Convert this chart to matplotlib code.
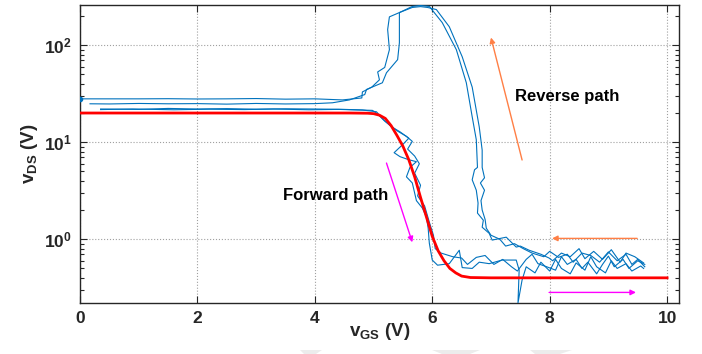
import matplotlib
matplotlib.use('Agg')
import matplotlib.pyplot as plt
from matplotlib.patches import Polygon
from matplotlib.ticker import LogLocator, NullFormatter

plt.rcParams['font.family'] = ['Liberation Sans', 'DejaVu Sans']
plt.rcParams['font.weight'] = 'bold'

# fitted switching curve v_DS(v_GS)
fit_vgs = [0.0, 4.6, 4.9, 5.0, 5.1, 5.2, 5.3, 5.4, 5.5, 5.6, 5.7, 5.8, 5.9,
           6.0, 6.1, 6.2, 6.3, 6.4, 6.5, 6.65, 7.0, 10.0]
fit_vds = [20.0, 20.0, 19.9, 19.7, 19.0, 17.6, 14.8, 11.7, 9.1, 6.6, 4.4, 2.7,
           1.7, 1.07, 0.76, 0.60, 0.50, 0.45, 0.417, 0.403, 0.40, 0.40]

# measured sweeps, forward (gate rising)
fwd1_vgs = [0.35, 1.0, 1.5, 2.0, 2.5, 3.0, 3.5, 4.0, 4.5, 4.81, 5.05, 5.15, 5.30,
            5.45, 5.60, 5.50, 5.35, 5.45, 5.60, 5.73, 5.62, 5.56, 5.66, 5.73, 5.83,
            5.90, 5.93, 5.95, 6.00, 6.09, 6.29, 6.46, 6.51, 6.68, 6.80, 6.97, 7.19,
            7.43, 7.48, 7.46, 7.53, 7.60, 7.75, 7.85, 8.00, 8.10, 8.20, 8.35, 8.45,
            8.60, 8.70, 8.80, 8.95, 9.05, 9.15, 9.30, 9.40, 9.55, 9.60]
fwd1_vds = [22.0, 21.8, 22.3, 22.0, 22.2, 21.9, 22.1, 22.0, 21.8, 21.5, 20.6, 17.5,
            14.5, 12.8, 11.0, 9.5, 7.8, 7.1, 6.6, 6.3, 5.5, 4.4, 3.8, 2.5, 2.1,
            1.7, 1.3, 0.91, 0.61, 0.54, 0.56, 0.77, 0.51, 0.50, 0.58, 0.56, 0.61,
            0.61, 0.48, 0.22, 0.38, 0.52, 0.45, 0.58, 0.47, 0.62, 0.50, 0.44, 0.57,
            0.48, 0.66, 0.52, 0.45, 0.60, 0.50, 0.56, 0.47, 0.53, 0.50]

fwd2_vgs = [0.35, 0.9, 1.6, 2.2, 2.8, 3.3, 3.9, 4.4, 4.98, 5.07, 5.19, 5.41, 5.56,
            5.66, 5.58, 5.70, 5.78, 5.70, 5.80, 5.75, 5.87, 5.95, 6.02, 6.05, 6.15,
            6.35, 6.50, 6.60, 6.75, 6.90, 7.05, 7.20, 7.35, 7.45, 7.60, 7.70, 7.80,
            7.95, 8.10, 8.20, 8.30, 8.45, 8.55, 8.65, 8.80, 8.90, 9.00, 9.10, 9.25,
            9.35, 9.50, 9.62]
fwd2_vds = [21.7, 22.0, 21.6, 21.9, 21.7, 22.0, 21.6, 21.8, 21.3, 19.5, 16.5, 13.0,
            11.5, 10.2, 8.5, 7.2, 6.0, 4.8, 3.6, 2.8, 2.2, 1.5, 1.1, 0.80, 0.72,
            0.66, 0.64, 0.55, 0.65, 0.68, 0.55, 0.62, 0.52, 0.47, 0.62, 0.70, 0.56,
            0.52, 0.48, 0.66, 0.55, 0.62, 0.50, 0.58, 0.44, 0.55, 0.67, 0.52, 0.62,
            0.50, 0.60, 0.55]

# measured sweeps, reverse (gate falling)
rev1_vgs = [9.60, 9.45, 9.30, 9.20, 9.05, 8.90, 8.75, 8.60, 8.50, 8.35, 8.20, 8.05,
            7.99, 7.85, 7.65, 7.50, 7.43, 7.26, 7.02, 6.97, 6.85, 6.87, 6.77, 6.78,
            6.75, 6.68, 6.72, 6.77, 6.75, 6.68, 6.58, 6.41, 6.17, 5.95, 5.80, 5.66,
            5.44, 5.27, 5.24, 5.27, 5.19, 5.07, 5.10, 4.97, 4.81, 4.80, 4.47, 4.0,
            3.5, 3.0, 2.5, 2.0, 1.5, 1.0, 0.5, 0.0]
rev1_vds = [0.57, 0.66, 0.72, 0.58, 0.78, 0.62, 0.75, 0.63, 0.80, 0.66, 0.72, 0.60,
            0.64, 0.70, 0.77, 0.85, 0.83, 1.05, 0.98, 1.15, 1.33, 1.57, 1.86, 2.36,
            3.2, 4.1, 5.2, 5.5, 10.6, 18.3, 41.0, 90.0, 171.0, 251.0, 257.0, 251.0,
            217.0, 196.0, 145.0, 90.0, 59.0, 53.0, 44.0, 37.0, 33.0, 28.6, 27.3, 28.0,
            27.8, 28.2, 28.0, 27.9, 28.1, 28.0, 28.0, 28.0]

rev2_vgs = [9.62, 9.50, 9.40, 9.30, 9.15, 9.00, 8.85, 8.70, 8.55, 8.40, 8.30, 8.15,
            8.00, 7.90, 7.70, 7.55, 7.40, 7.25, 7.15, 7.00, 6.92, 6.90, 6.85, 6.83,
            6.89, 6.82, 6.89, 6.85, 6.85, 6.80, 6.68, 6.51, 6.29, 6.07, 5.92, 5.80,
            5.66, 5.44, 5.44, 5.41, 5.22, 5.15, 4.88, 4.85, 4.59, 4.3, 4.0, 3.5, 3.0,
            2.5, 2.0, 1.5, 1.0, 0.5, 0.17]
rev2_vds = [0.52, 0.62, 0.55, 0.70, 0.60, 0.74, 0.58, 0.68, 0.72, 0.58, 0.70, 0.65,
            0.75, 0.66, 0.72, 0.80, 0.90, 0.85, 1.0, 1.1, 1.3, 1.6, 2.0, 2.5, 3.2,
            3.8, 4.3, 5.5, 8.3, 14.4, 37.0, 76.0, 155.0, 233.0, 245.0, 250.0, 245.0,
            217.0, 106.0, 71.0, 52.0, 41.0, 35.0, 31.0, 27.3, 25.5, 25.0, 24.8, 25.1,
            24.7, 25.0, 24.9, 25.1, 24.8, 24.9]

# direction arrows: (tail, head)
fwd_arrow_diag = [(5.22, 6.1), (5.66, 0.93)]
fwd_arrow_flat = [(7.99, 0.283), (9.47, 0.283)]
rev_arrow_diag = [(7.53, 6.56), (7.0, 120.0)]
rev_arrow_flat = [(9.49, 1.02), (8.04, 1.02)]

xticks = [0, 2, 4, 6, 8, 10]

blue = '#0072bd'
orange = '#ff7f45'
magenta = '#ff00ff'
axcol = '#262626'

fig = plt.figure(figsize=(7.02, 3.54), dpi=100)
ax = fig.add_axes([0.114, 0.144, 0.853, 0.842])
ax.set_yscale('log')

for xs, ys in [(fwd1_vgs, fwd1_vds), (fwd2_vgs, fwd2_vds),
               (rev1_vgs, rev1_vds), (rev2_vgs, rev2_vds)]:
    ax.plot(xs, ys, color=blue, lw=0.8, zorder=3)
ax.plot(rev1_vgs[-1], rev1_vds[-1], 'o', color=blue, ms=3, zorder=3)
ax.plot(fit_vgs, fit_vds, color='red', lw=2.0, zorder=4)

for (tail, head), col in [(fwd_arrow_diag, magenta), (fwd_arrow_flat, magenta),
                          (rev_arrow_diag, orange), (rev_arrow_flat, orange)]:
    ax.annotate('', xy=head, xytext=tail,
                arrowprops=dict(arrowstyle='-|>', color=col, lw=1.0,
                                mutation_scale=8, shrinkA=0, shrinkB=0),
                zorder=5)

ax.text(7.41, 29.5, 'Reverse path', fontsize=12, fontweight='bold', va='center')
ax.text(3.45, 2.85, 'Forward path', fontsize=12, fontweight='bold', va='center')

ax.set_xlim(0, 10.2)
ax.set_ylim(0.22, 260)
ax.set_xticks(xticks)
ax.yaxis.set_major_locator(LogLocator(base=10))
ax.yaxis.set_minor_locator(LogLocator(base=10, subs=range(2, 10)))
ax.yaxis.set_minor_formatter(NullFormatter())

ax.grid(True, which='major', ls=':', color='#a0a0a0', lw=0.8)
ax.tick_params(which='both', direction='in', top=True, right=True,
               color=axcol, labelcolor=axcol, labelsize=12.5, width=0.8)
ax.tick_params(which='major', length=5, pad=6)
ax.tick_params(which='minor', length=3)
for s in ax.spines.values():
    s.set_color(axcol)
    s.set_linewidth(1.0)

ax.set_xlabel(r'v$_{\mathdefault{GS}}$ (V)', fontsize=13.5, fontweight='bold',
              color=axcol, labelpad=-4)
ax.set_ylabel(r'v$_{\mathdefault{DS}}$ (V)', fontsize=13.5, fontweight='bold',
              color=axcol, labelpad=3)

# faint shapes along the lower edge of the page
W, H = 702.0, 354.0
for pts in [[(300, 4), (322, 4), (316, 0), (304, 0)],
            [(432, 4), (480, 4), (470, 0), (442, 0)],
            [(530, 4), (572, 4), (560, 0), (535, 0)]]:
    fig.add_artist(Polygon([(px / W, py / H) for px, py in pts], closed=True,
                           transform=fig.transFigure, facecolor='#ececec',
                           edgecolor='none'))

fig.savefig('out.png', dpi=100)
